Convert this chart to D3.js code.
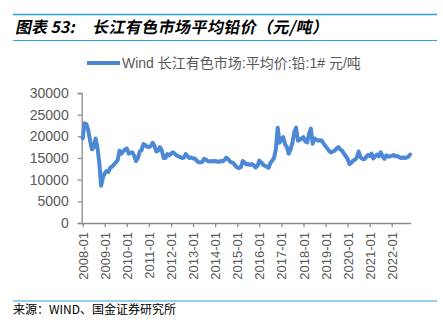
<!DOCTYPE html>
<html><head><meta charset="utf-8">
<script src="https://cdn.jsdelivr.net/npm/d3@7"></script>
<style>
html,body{margin:0;padding:0;background:#fff;}
svg{display:block;}
</style></head>
<body>
<svg id="chart" width="443" height="323"></svg>
<script>
// ---- data ----
const titleLabel = "图表 53:";
const titleText = "长江有色市场平均铅价（元/吨）";
const legendText = "Wind 长江有色市场:平均价:铅:1# 元/吨";
const sourceText = "来源：WIND、国金证券研究所";
const yTicks = [0, 5000, 10000, 15000, 20000, 25000, 30000];
const xTickLabels = ["2008-01","2009-01","2010-01","2011-01","2012-01","2013-01","2014-01","2015-01","2016-01","2017-01","2018-01","2019-01","2020-01","2021-01","2022-01"];
// monthly average lead price, 2008-01 .. 2022-11 (yuan/ton)
const v2008 = [19500, 23000, 22800, 21500, 19000, 17000, 17500, 19500, 17500, 14000, 8600, 10500];
const v2009 = [11500, 12000, 11800, 12800, 13000, 13500, 14000, 14500, 16700, 16000, 16500, 17000];
const v2010 = [17200, 16000, 16200, 16300, 15500, 14300, 15000, 16500, 16800, 18200, 18000, 17600];
const v2011 = [17500, 17800, 18500, 17800, 16500, 16700, 17500, 16800, 15000, 15000, 15900, 15600];
const v2012 = [16000, 16300, 16000, 15600, 15400, 15200, 15000, 15100, 15900, 15400, 15000, 15100];
const v2013 = [14900, 14900, 14400, 14000, 14000, 14100, 14800, 14600, 14300, 14200, 14300, 14200];
const v2014 = [14300, 14200, 14100, 14300, 14200, 14500, 15100, 14800, 14200, 14000, 13800, 13200];
const v2015 = [12800, 12700, 12900, 14300, 14000, 13500, 13600, 13400, 13600, 13300, 12800, 13200];
const v2016 = [14400, 14000, 13500, 13200, 13000, 12700, 13800, 14400, 15000, 17000, 22000, 18500];
const v2017 = [19500, 19800, 18200, 17500, 16000, 17000, 18500, 21000, 22000, 19000, 19200, 19500];
const v2018 = [19800, 18800, 18600, 20500, 21800, 18300, 19500, 19200, 19000, 19100, 19000, 18300];
const v2019 = [17700, 17200, 16600, 16300, 16500, 16700, 17200, 17500, 17000, 16700, 16000, 15400];
const v2020 = [14800, 13600, 13900, 14400, 14600, 15100, 16500, 15200, 14800, 14700, 15200, 15700];
const v2021 = [15500, 16000, 14900, 15400, 15800, 15400, 16300, 15400, 14800, 15600, 15300, 15400];
const v2022 = [15500, 15700, 15400, 15500, 15200, 15000, 15100, 15000, 15100, 15300, 15800];
const values = [].concat(v2008, v2009, v2010, v2011, v2012, v2013, v2014, v2015, v2016, v2017, v2018, v2019, v2020, v2021, v2022);

// ---- drawing ----
const svg = d3.select("#chart");
const blue = "#4d88d6";
const rule = "#2ba0dc";
const axisColor = "#8c8c8c";
const textGray = "#595959";

// header / footer rules
svg.append("line").attr("x1", 13).attr("x2", 437).attr("y1", 14.5).attr("y2", 14.5)
  .attr("stroke", rule).attr("stroke-width", 1.5);
svg.append("line").attr("x1", 13).attr("x2", 437).attr("y1", 40.5).attr("y2", 40.5)
  .attr("stroke", rule).attr("stroke-width", 1.2);
svg.append("line").attr("x1", 13).attr("x2", 437).attr("y1", 301).attr("y2", 301)
  .attr("stroke", rule).attr("stroke-width", 1.2);

const titleFont = "'Noto Sans CJK SC', sans-serif";
const titleG = svg.append("g").attr("transform", "translate(0,33) skewX(-12)");
titleG.append("text").attr("x", 15).attr("y", 0)
  .attr("font-family", titleFont)
  .attr("font-size", 16).attr("font-weight", "bold")
  .attr("fill", "#000").text(titleLabel);
titleG.append("text").attr("x", 92).attr("y", 0)
  .attr("font-family", titleFont)
  .attr("font-size", 16).attr("font-weight", "bold")
  .attr("textLength", 236).attr("lengthAdjust", "spacing")
  .attr("fill", "#000").text(titleText);

svg.append("text").attr("x", 13).attr("y", 314)
  .attr("font-family", "'Noto Sans CJK SC', 'Liberation Sans', sans-serif")
  .attr("font-size", 12).attr("fill", "#000").text(sourceText);

// scales
const x = d3.scaleLinear().domain([-0.55, 178.3]).range([81.7, 410.7]);
const y = d3.scaleLinear().domain([0, 30000]).range([223, 93]);

// legend
svg.append("line").attr("x1", 87).attr("x2", 120).attr("y1", 63).attr("y2", 63)
  .attr("stroke", blue).attr("stroke-width", 4);
svg.append("text").attr("x", 122).attr("y", 68)
  .attr("font-family", "'Liberation Sans', 'Noto Sans CJK SC', sans-serif")
  .attr("font-size", 14).attr("fill", textGray).text(legendText);

// y axis
const yAxis = svg.append("g").attr("transform", "translate(81.7,0)")
  .call(d3.axisLeft(y).tickValues(yTicks).tickSize(4).tickPadding(9).tickFormat(d3.format("d")));
yAxis.select(".domain").attr("stroke", axisColor).attr("stroke-width", 1.3);
yAxis.selectAll(".tick line").attr("stroke", axisColor).attr("stroke-width", 1.3);
yAxis.selectAll("text").attr("fill", textGray)
  .attr("font-family", "'Liberation Sans', Arial, sans-serif").attr("font-size", 14);

// x axis
const xTickVals = xTickLabels.map((d, i) => i * 12);
const xAxis = svg.append("g").attr("transform", "translate(0,223)")
  .call(d3.axisBottom(x).tickValues(xTickVals).tickSize(4).tickSizeOuter(0)
    .tickFormat((d, i) => xTickLabels[i]));
xAxis.select(".domain").attr("stroke", axisColor).attr("stroke-width", 1.3);
xAxis.selectAll(".tick line").attr("stroke", axisColor).attr("stroke-width", 1.3);
xAxis.selectAll("text").attr("fill", textGray)
  .attr("font-family", "'Liberation Sans', Arial, sans-serif").attr("font-size", 13)
  .attr("transform", "rotate(-90)").attr("text-anchor", "end")
  .attr("x", -9).attr("y", 0).attr("dy", "0.35em");

// line
const line = d3.line().x((d, i) => x(i)).y(d => y(d)).curve(d3.curveLinear);
svg.append("path").datum(values).attr("d", line)
  .attr("fill", "none").attr("stroke", blue).attr("stroke-width", 4)
  .attr("stroke-linejoin", "round").attr("stroke-linecap", "round");
</script>
</body></html>
